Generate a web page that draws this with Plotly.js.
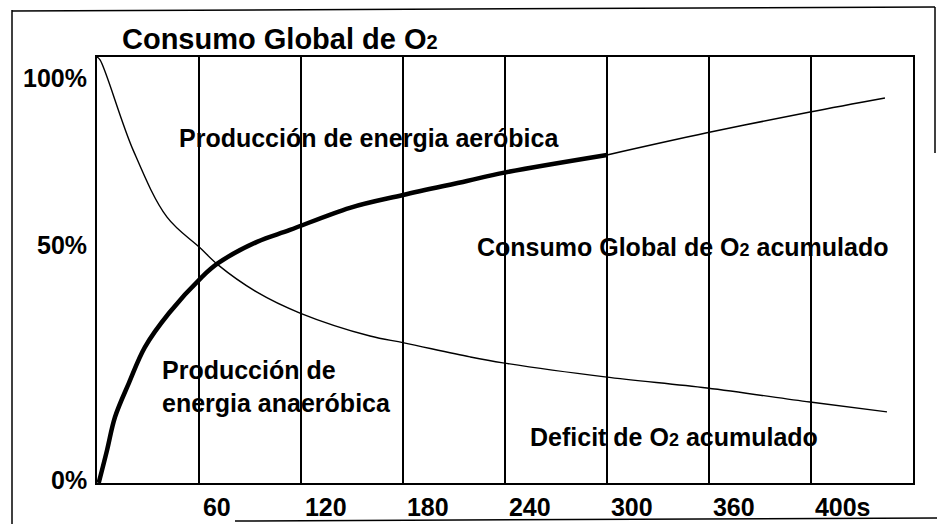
<!DOCTYPE html>
<html>
<head>
<meta charset="utf-8">
<script src="https://cdn.plot.ly/plotly-3.0.1.min.js"></script>
<style>html,body{margin:0;padding:0;background:#fff;}#chart{width:937px;height:524px;}</style>
</head>
<body>
<div id="chart"></div>
<script>
// ---- data (time in s, value in %) ----
const consumoT      = [1, 5.9, 10.6, 18.8, 28.2, 42.4, 61.8, 71.2, 94.1, 113.5, 148.8, 180, 217.6, 238.8, 300];
const consumoY      = [0, 7.7, 15.5, 23.5, 31.9, 39.9, 48.4, 51.6, 56.6, 59.4, 64.6, 67.6, 70.9, 72.8, 77.0];
const consumoContT  = [300, 358.8, 419.4, 463.5];
const consumoContY  = [77.0, 82.2, 87.1, 90.4];
const deficitT      = [0, 1.8, 21.2, 41.2, 60.6, 71.2, 94.1, 119.4, 160.6, 180.6, 219.4, 238.8, 298.8, 358.8, 419.4, 464.7];
const deficitY      = [100, 99.3, 78.2, 62.4, 55.2, 51.2, 44.8, 39.9, 34.5, 32.9, 29.6, 28.2, 24.9, 22.3, 19.0, 16.7];
const xTickVals     = [60, 120, 180, 240, 300, 360, 420];
const xTickLabels   = ['60', '120', '180', '240', '300', '360', '400s'];
const yTickVals     = [0, 50, 100];
const yTickLabels   = ['0%', '50%', '100%'];
const titleText     = 'Consumo Global de O<span style="font-size:20px">2</span>';
const labelAerobica = 'Producción de energia aeróbica';
const labelConsumo  = 'Consumo Global de O<span style="font-size:18px">2</span> acumulado';
const labelAnaer    = 'Producción de<br>energia anaeróbica';
const labelDeficit  = 'Deficit de O<span style="font-size:18px">2</span> acumulado';

// ---- layout helpers (pixel -> paper) ----
const L = 97, T = 57, W = 816, H = 426;
const px = x => (x - L) / W;
const py = y => (T + H - y) / H;
const FONT = 'Liberation Sans, Arial, Helvetica, sans-serif';
const txtFont = {family: FONT, size: 25, color: '#000', weight: 700};

const traces = [
  {x: deficitT, y: deficitY, mode: 'lines', line: {color: '#000', width: 1.4, shape: 'spline', smoothing: 1.0}, hoverinfo: 'skip'},
  {x: consumoContT, y: consumoContY, mode: 'lines', line: {color: '#000', width: 1.5, shape: 'spline'}, hoverinfo: 'skip'},
  {x: consumoT, y: consumoY, mode: 'lines', line: {color: '#000', width: 4.5, shape: 'spline', smoothing: 1.0}, hoverinfo: 'skip'}
];

const yShift = [3, 25, -21];
const annotations = [
  {text: labelAerobica, x: px(177), y: py(138)},
  {text: labelConsumo,  x: px(475), y: py(247)},
  {text: labelAnaer,    x: px(160), y: py(386)},
  {text: labelDeficit,  x: px(528), y: py(437)}
].map(a => Object.assign({xref: 'paper', yref: 'paper', xanchor: 'left', yanchor: 'middle', align: 'left', showarrow: false, font: txtFont}, a));

yTickVals.forEach((v, i) => {
  annotations.push({text: yTickLabels[i], xref: 'paper', x: 0, xshift: -8, yref: 'y', y: v, yshift: yShift[i],
    xanchor: 'right', yanchor: 'middle', showarrow: false, font: txtFont});
});

const line = (x0, y0, x1, y1, w) => ({type: 'line', xref: 'paper', yref: 'paper', x0: px(x0), y0: py(y0), x1: px(x1), y1: py(y1), line: {color: '#000', width: w}});
const shapes = [
  line(12, 10, 12, 524, 1.5),
  line(12, 11, 935, 7, 1.5),
  line(935, 7, 935, 153, 1.5),
  line(235, 521, 937, 518, 1.5)
];

const layout = {
  width: 937, height: 524, autosize: false,
  margin: {l: L, r: 937 - L - W, t: T, b: 524 - T - H, pad: 0},
  paper_bgcolor: '#fff', plot_bgcolor: '#fff',
  showlegend: false,
  title: {text: titleText, font: {family: FONT, size: 29, color: '#000', weight: 700},
          xref: 'container', x: 122 / 937, xanchor: 'left', yref: 'container', y: 1 - 39 / 524, yanchor: 'middle'},
  xaxis: {range: [0, 480], tickvals: xTickVals, ticktext: xTickLabels, showgrid: true, gridcolor: '#000', gridwidth: 1.6,
          zeroline: false, showline: true, linecolor: '#000', linewidth: 1.8, mirror: true, ticks: '',
          ticklabelposition: 'outside right', ticklabelstandoff: 1, ticklabelshift: 3,
          tickfont: txtFont, fixedrange: true},
  yaxis: {range: [0, 100], showgrid: false, zeroline: false, showline: true, linecolor: '#000', linewidth: 1.8, mirror: true,
          ticks: '', showticklabels: false, fixedrange: true},
  annotations: annotations,
  shapes: shapes
};

Plotly.newPlot('chart', traces, layout, {displayModeBar: false, staticPlot: true});
</script>
</body>
</html>
